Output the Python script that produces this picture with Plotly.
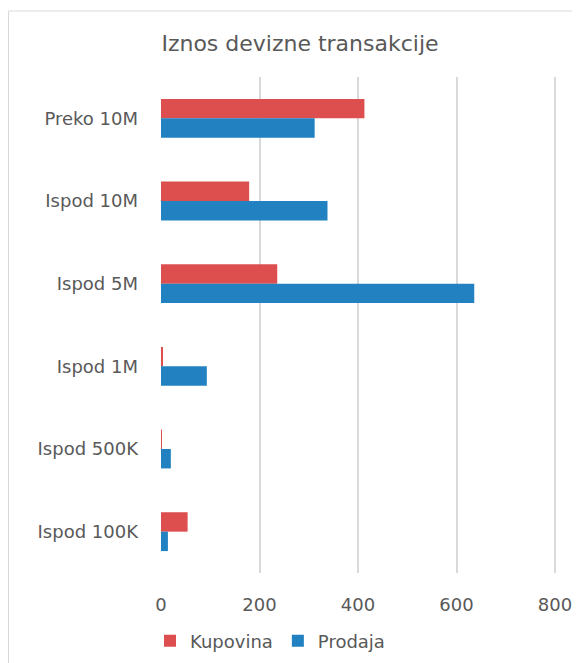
import plotly.graph_objects as go

categories = ["Preko 10M", "Ispod 10M", "Ispod 5M", "Ispod 1M", "Ispod 500K", "Ispod 100K"]
kupovina = [413, 179, 236, 3, 2, 54]
prodaja = [312, 338, 636, 93, 20, 14]
x_ticks = [0, 200, 400, 600, 800]

RED = "#DD4F4E"
BLUE = "#2181C1"
TXT = "#595959"
FONT = "DejaVu Sans"

fig = go.Figure()
fig.add_trace(go.Bar(y=categories, x=kupovina, name="Kupovina", orientation="h",
                     marker=dict(color=RED, line=dict(width=0))))
fig.add_trace(go.Bar(y=categories, x=prodaja, name="Prodaja", orientation="h",
                     marker=dict(color=BLUE, line=dict(width=0))))

OFF = 8  # page body margin
W, H = 580 - OFF, 663 - OFF
L, T = 161 - OFF, 77 - OFF
R = W - (557 - OFF)
B = H - (573 - OFF)
pw, ph = W - L - R, H - T - B

def px_x(p):
    return (p - OFF - L) / pw

def px_y(p):
    return 1 - (p - OFF - T) / ph

fig.update_layout(
    width=W, height=H,
    margin=dict(l=L, r=R, t=T, b=B, autoexpand=False),
    paper_bgcolor="white", plot_bgcolor="white",
    barmode="group", bargap=0.53, bargroupgap=0,
    font=dict(family=FONT, color=TXT, size=18),
    title=dict(text="Iznos devizne transakcije", x=(300 - OFF) / W, xanchor="center",
               y=1 - (43 - OFF) / H, yanchor="middle", font=dict(size=22, color=TXT, family=FONT)),
    showlegend=True,
    legend=dict(orientation="h", xref="container", yref="container",
                x=(270 - OFF) / W, xanchor="center", y=1 - (641 - OFF) / H, yanchor="middle",
                font=dict(size=18, color=TXT), itemwidth=30, traceorder="normal"),
    xaxis=dict(range=[0, 804], tickvals=x_ticks, showgrid=True, gridcolor="#D9D9D9", gridwidth=1.5,
               zeroline=False, showline=False, ticks="", ticklabelstandoff=19,
               tickfont=dict(size=18, color=TXT), automargin=False),
    yaxis=dict(autorange="reversed", showgrid=False, zeroline=False, showline=False, ticks="",
               ticklabelstandoff=22, tickfont=dict(size=18, color=TXT), automargin=False),
    shapes=[dict(type="rect", xref="paper", yref="paper",
                 x0=px_x(8.5), x1=px_x(600), y0=px_y(700), y1=px_y(11),
                 line=dict(color="#D9D9D9", width=1), fillcolor="rgba(0,0,0,0)", layer="below")],
)

fig.write_html("out.html")
